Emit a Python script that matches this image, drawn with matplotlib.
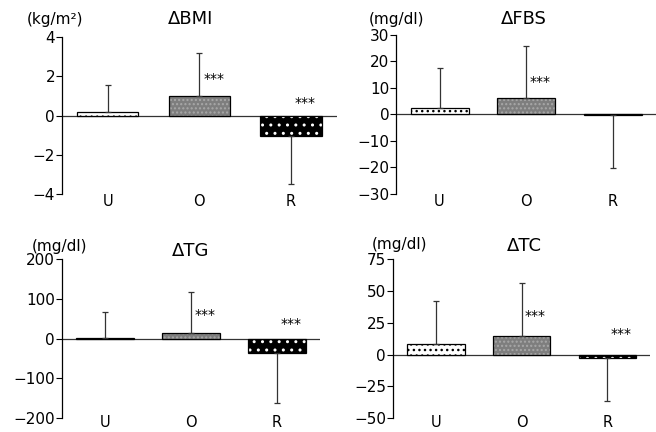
import numpy as np
import matplotlib
matplotlib.use('Agg')
import matplotlib.pyplot as plt

plt.rcParams['font.family'] = ['DejaVu Sans']
plt.rcParams['hatch.linewidth'] = 1.0

groups = ['U', 'O', 'R']

# means and one-sided SD for each panel
bmi_mean = [0.2, 1.0, -1.05]
bmi_sd = [1.35, 2.2, 2.45]
fbs_mean = [2.5, 6.3, -0.3]
fbs_sd = [15.0, 19.7, 20.0]
tg_mean = [1.0, 15.0, -35.0]
tg_sd = [65.0, 103.0, 127.0]
tc_mean = [8.5, 15.0, -3.0]
tc_sd = [33.5, 41.5, 33.5]

# which bars carry "***"
bmi_sig = [False, True, True]
fbs_sig = [False, True, False]
tg_sig = [False, True, True]
tc_sig = [False, True, True]

panels = [
    dict(title='\u0394BMI', unit='(kg/m\u00b2)', mean=bmi_mean, sd=bmi_sd, sig=bmi_sig,
         ylim=(-4, 4), ticks=[-4, -2, 0, 2, 4], star_y=[0, 1.85, 0.65], xpad=0,
         pos=[0.0945, 0.551, 0.419, 0.363], unit_xy=(-0.025, 1.115), title_xy=(0.466, 1.115)),
    dict(title='\u0394FBS', unit='(mg/dl)', mean=fbs_mean, sd=fbs_sd, sig=fbs_sig,
         ylim=(-30, 30), ticks=[-30, -20, -10, 0, 10, 20, 30], star_y=[0, 12.4, 0], xpad=0,
         pos=[0.604, 0.551, 0.396, 0.368], unit_xy=(0.0, 1.10), title_xy=(0.49, 1.10)),
    dict(title='\u0394TG', unit='(mg/dl)', mean=tg_mean, sd=tg_sd, sig=tg_sig,
         ylim=(-200, 200), ticks=[-200, -100, 0, 100, 200], star_y=[0, 60, 37], xpad=-2,
         pos=[0.0945, 0.032, 0.393, 0.368], unit_xy=(-0.01, 1.08), title_xy=(0.50, 1.05)),
    dict(title='\u0394TC', unit='(mg/dl)', mean=tc_mean, sd=tc_sd, sig=tc_sig,
         ylim=(-50, 75), ticks=[-50, -25, 0, 25, 50, 75], star_y=[0, 30, 16], xpad=-2,
         pos=[0.599, 0.032, 0.392, 0.368], unit_xy=(0.025, 1.094), title_xy=(0.51, 1.08)),
]

fig = plt.figure(figsize=(6.56, 4.32), dpi=100)
x = np.arange(len(groups))
w = 0.67

for p in panels:
    ax = fig.add_axes(p['pos'])
    m = np.array(p['mean'])
    sd = np.array(p['sd'])

    # U: white with black dots
    ax.bar(x[0], m[0], w, facecolor='white', edgecolor='black', hatch='...', lw=0, zorder=2)
    # O: gray stipple
    ax.bar(x[1], m[1], w, facecolor='#7e7e7e', edgecolor='#a8a8a8', hatch='....', lw=0, zorder=2)
    # R: black with white dots
    ax.bar(x[2], m[2], w, facecolor='black', edgecolor='white', hatch='..', lw=0, zorder=2)
    ax.bar(x, m, w, fill=False, edgecolor='black', lw=0.9, zorder=3)

    # one-sided error bars
    lower = np.where(m < 0, sd, 0)
    upper = np.where(m >= 0, sd, 0)
    ax.errorbar(x, m, yerr=[lower, upper], fmt='none', ecolor='#333333',
                elinewidth=0.9, capsize=2.5, capthick=0.9, zorder=4)

    for i in range(len(groups)):
        if p['sig'][i]:
            ax.text(x[i] + 0.04, p['star_y'][i], '***', fontsize=10, ha='left', va='center')

    ax.axhline(0, color='#333333', lw=0.9, zorder=1)
    ax.set_xlim(-0.5, 2.5)
    ax.set_ylim(*p['ylim'])
    ax.set_yticks(p['ticks'])
    ax.set_xticks(x)
    ax.set_xticklabels(groups)
    ax.tick_params(axis='x', length=0, pad=p['xpad'], labelsize=10.5)
    ax.tick_params(axis='y', length=4, width=0.8, direction='out', pad=1, labelsize=11)
    for s in ['top', 'right', 'bottom']:
        ax.spines[s].set_visible(False)
    ax.spines['left'].set_linewidth(0.9)

    ax.text(*p['unit_xy'], p['unit'], transform=ax.transAxes, ha='center', va='center', fontsize=11)
    ax.text(*p['title_xy'], p['title'], transform=ax.transAxes, ha='center', va='center', fontsize=13)

fig.savefig('out.png', dpi=100)
